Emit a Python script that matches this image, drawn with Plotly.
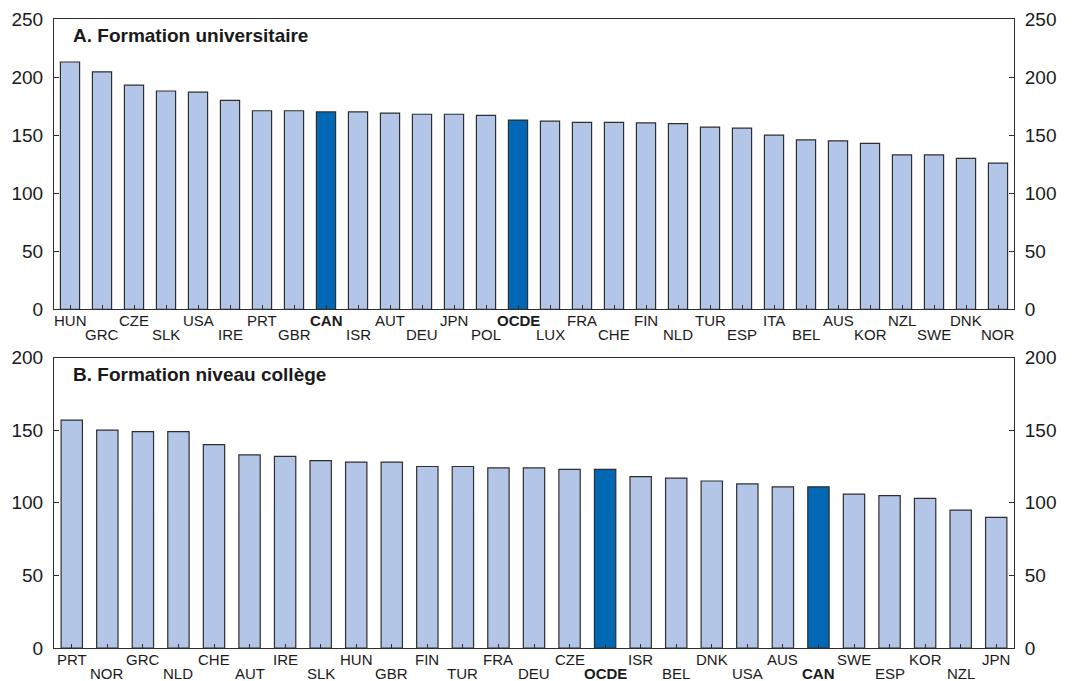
import plotly.graph_objects as go

# Panel A: university-level training
univ_countries = ["HUN", "GRC", "CZE", "SLK", "USA", "IRE", "PRT", "GBR", "CAN", "ISR",
                  "AUT", "DEU", "JPN", "POL", "OCDE", "LUX", "FRA", "CHE", "FIN", "NLD",
                  "TUR", "ESP", "ITA", "BEL", "AUS", "KOR", "NZL", "SWE", "DNK", "NOR"]
univ_values = [213, 204.5, 193, 188, 187, 180, 171, 171, 170, 170,
               169, 168, 168, 167, 163, 162, 161, 161, 160.5, 160,
               157, 156, 150, 146, 145, 143, 133, 133, 130, 126]

# Panel B: college-level training
coll_countries = ["PRT", "NOR", "GRC", "NLD", "CHE", "AUT", "IRE", "SLK", "HUN", "GBR",
                  "FIN", "TUR", "FRA", "DEU", "CZE", "OCDE", "ISR", "BEL", "DNK", "USA",
                  "AUS", "CAN", "SWE", "ESP", "KOR", "NZL", "JPN"]
coll_values = [157, 150, 149, 149, 140, 133, 132, 129, 128, 128,
               125, 125, 124, 124, 123, 123, 118, 117, 115, 113,
               111, 111, 106, 105, 103, 95, 90]

highlight = {"CAN", "OCDE"}
panel_titles = ["A. Formation universitaire", "B. Formation niveau collège"]
y_ranges = [[0, 250], [0, 200]]

LIGHT = "#B3C6E7"
DARK = "#0068B4"
EDGE = "#2E2E2E"
TEXT = "#1A1A1A"
FONT = "Liberation Sans, Arial, sans-serif"

fig = go.Figure()

panels = [
    (univ_countries, univ_values, "x", "y", "y3", [0.5383, 1.0]),
    (coll_countries, coll_values, "x2", "y2", "y4", [0.0, 0.4617]),
]

annotations = []
for i, (cats, vals, xa, ya, yr, dom) in enumerate(panels):
    colors = [DARK if c in highlight else LIGHT for c in cats]
    fig.add_trace(go.Bar(
        x=cats, y=vals, xaxis=xa, yaxis=ya,
        marker=dict(color=colors, line=dict(color=EDGE, width=1.2)),
        showlegend=False, hoverinfo="x+y",
    ))
    # invisible trace so the right-hand axis is drawn
    fig.add_trace(go.Scatter(
        x=[cats[0]], y=[0], xaxis=xa, yaxis=yr, mode="markers",
        marker=dict(opacity=0), showlegend=False, hoverinfo="skip",
    ))
    # staggered category labels
    for j, c in enumerate(cats):
        txt = f"<b>{c}</b>" if c in highlight else c
        annotations.append(dict(
            x=c, xref=xa, y=dom[0], yref="paper",
            text=txt, showarrow=False, xanchor="center", yanchor="middle",
            yshift=-11 if j % 2 == 0 else -25,
            font=dict(family=FONT, size=15, color=TEXT),
        ))
    annotations.append(dict(
        x=0.018, xref=f"{xa} domain", y=0.943, yref=f"{ya} domain",
        text=f"<b>{panel_titles[i]}</b>", showarrow=False,
        xanchor="left", yanchor="middle",
        font=dict(family=FONT, size=19, color=TEXT),
    ))

axis_common = dict(showline=True, linecolor=EDGE, linewidth=1, showgrid=False,
                   zeroline=False)
tick_font = dict(family=FONT, size=19, color=TEXT)

layout = dict(
    width=1080, height=681,
    margin=dict(l=54, r=66, t=9, b=33),
    paper_bgcolor="white", plot_bgcolor="white",
    bargap=0.4,
    annotations=annotations,
    font=dict(family=FONT),
)

for i, (cats, vals, xa, ya, yr, dom) in enumerate(panels):
    xkey = "xaxis" if xa == "x" else "xaxis2"
    ykey = "yaxis" if ya == "y" else "yaxis2"
    rkey = "yaxis3" if yr == "y3" else "yaxis4"
    layout[xkey] = dict(
        axis_common, anchor=ya, domain=[0, 1], mirror=True,
        type="category", range=[-0.5, len(cats) - 0.5],
        showticklabels=False, ticks="inside", ticklen=4, tickcolor=EDGE,
    )
    layout[ykey] = dict(
        axis_common, anchor=xa, domain=dom, range=y_ranges[i],
        dtick=50, ticks="inside", ticklen=5, tickcolor=EDGE,
        tickfont=tick_font, ticklabelstandoff=6,
    )
    layout[rkey] = dict(
        axis_common, overlaying=ya, anchor=xa, side="right", range=y_ranges[i],
        dtick=50, ticks="inside", ticklen=5, tickcolor=EDGE,
        tickfont=tick_font, ticklabelstandoff=6,
    )

fig.update_layout(**layout)
fig.write_html("out.html")
